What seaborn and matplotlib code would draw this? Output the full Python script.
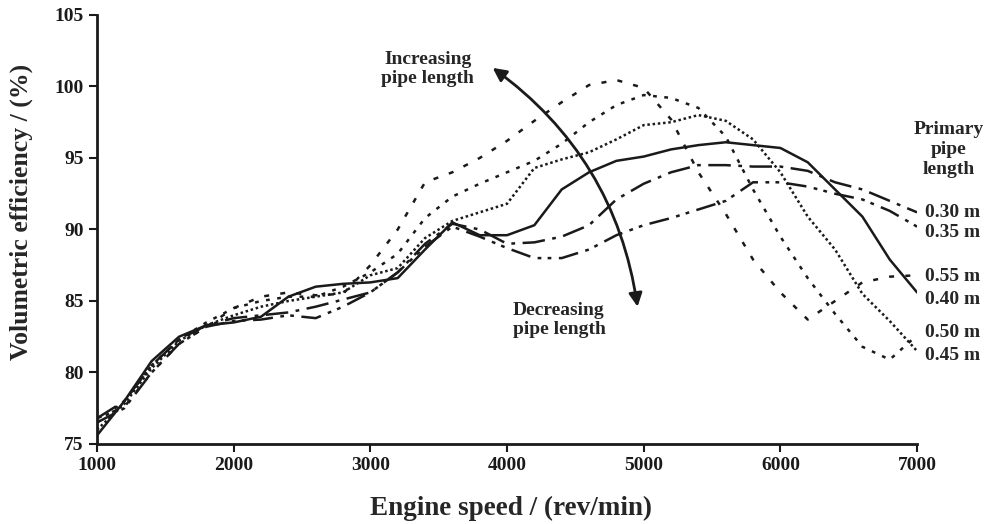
import numpy as np
import pandas as pd
import matplotlib
matplotlib.use("Agg")
import matplotlib.pyplot as plt
import seaborn as sns

# engine speed grid (rev/min)
rpm = np.arange(1000, 7001, 200)

# volumetric efficiency (%), one list per pipe length
ve_030 = [76.8, 78.0, 80.5, 82.3, 83.3, 83.8, 84.0, 84.2, 84.6, 85.1, 85.6,
          87.0, 89.0, 90.4, 90.0, 89.0, 89.1, 89.5, 90.3, 92.1, 93.2,
          94.0, 94.5, 94.5, 94.4, 94.4, 94.1, 93.3, 92.8, 92.0, 91.2]
ve_035 = [76.5, 77.5, 80.0, 82.0, 83.2, 83.6, 83.7, 84.0, 83.8, 84.6, 85.6,
          87.0, 88.8, 90.2, 89.5, 88.7, 88.0, 88.0, 88.6, 89.6, 90.3,
          90.8, 91.4, 92.0, 93.3, 93.3, 93.0, 92.5, 92.1, 91.3, 90.2]
ve_040 = [75.6, 78.0, 80.8, 82.5, 83.3, 83.5, 83.9, 85.3, 86.0, 86.2, 86.3,
          86.6, 88.6, 90.5, 89.6, 89.6, 90.3, 92.8, 94.0, 94.8, 95.1,
          95.6, 95.9, 96.1, 95.9, 95.7, 94.7, 92.8, 90.9, 87.9, 85.6]
ve_045 = [76.0, 77.8, 80.3, 82.2, 83.3, 84.0, 84.6, 85.0, 85.3, 85.6, 86.8,
          87.3, 89.4, 90.6, 91.2, 91.8, 94.3, 94.9, 95.4, 96.3, 97.3,
          97.5, 98.0, 97.6, 96.3, 94.0, 90.9, 88.6, 85.5, 83.6, 81.5]
ve_050 = [76.5, 78.0, 80.5, 82.3, 83.5, 84.5, 85.0, 85.3, 85.3, 86.0, 87.0,
          88.3, 90.8, 92.3, 93.2, 94.0, 94.8, 96.0, 97.5, 98.7, 99.4,
          99.2, 98.5, 96.5, 92.8, 89.5, 86.6, 84.1, 81.8, 80.9, 82.6]
ve_055 = [76.8, 77.6, 80.0, 82.0, 83.2, 84.5, 85.3, 85.6, 85.4, 85.5, 87.5,
          90.0, 93.3, 94.0, 95.0, 96.2, 97.6, 98.9, 100.1, 100.45, 99.9,
          97.7, 94.0, 91.1, 87.9, 85.6, 83.7, 85.0, 86.3, 86.7, 86.8]

labels = ["0.30 m", "0.35 m", "0.40 m", "0.45 m", "0.50 m", "0.55 m"]
series = [ve_030, ve_035, ve_040, ve_045, ve_050, ve_055]
styles = [(0, (9, 3, 1.5, 3)),
          (0, (8, 3, 1.5, 2.5, 1.5, 3)),
          "-",
          (0, (1, 1.1)),
          (0, (1.5, 3)),
          (0, (2, 4.5))]
# label heights at the right edge
label_y = [91.2, 89.8, 85.1, 81.2, 82.8, 86.7]

sns.set_style("ticks")
plt.rcParams["font.family"] = ["Liberation Serif", "DejaVu Serif"]
plt.rcParams["font.weight"] = "bold"

fig = plt.figure(figsize=(9.88, 5.24), dpi=100)
ax = fig.add_axes([0.0982, 0.1527, 0.830, 0.8187])

for lab, vals, ls in zip(labels, series, styles):
    df = pd.DataFrame({"rpm": rpm, "ve": vals})
    sns.lineplot(data=df, x="rpm", y="ve", ax=ax, color="#1a1a1a",
                 linestyle=ls, linewidth=1.8, dashes=False, legend=False)

ax.set_xlim(1000, 7000)
ax.set_ylim(75, 105)
ax.set_xticks(range(1000, 7001, 1000))
ax.set_yticks(range(75, 106, 5))
ax.tick_params(labelsize=14, width=1.5, length=6, colors="#1a1a1a")
for t in ax.get_xticklabels() + ax.get_yticklabels():
    t.set_fontweight("bold")
sns.despine(ax=ax)
for s in ["left", "bottom"]:
    ax.spines[s].set_linewidth(2)
    ax.spines[s].set_color("#1a1a1a")

ax.set_xlabel("Engine speed / (rev/min)", fontsize=19.5, fontweight="bold")
ax.set_ylabel("Volumetric efficiency / (%)", fontsize=18.5, fontweight="bold")
ax.xaxis.set_label_coords(0.505, -0.122)
ax.yaxis.set_label_coords(-0.078, 0.54)

# labels at line ends
for lab, yy in zip(labels, label_y):
    ax.text(7060, yy, lab, fontsize=14, fontweight="bold", va="center",
            ha="left", clip_on=False)
ax.text(7230, 95.6, "Primary\npipe\nlength", fontsize=14, fontweight="bold",
        ha="center", va="center", linespacing=1.2, clip_on=False)

ax.text(3420, 101.2, "Increasing\npipe length", fontsize=14, fontweight="bold",
        ha="center", va="center", linespacing=1.15)
ax.text(4380, 83.7, "Decreasing\npipe length", fontsize=14, fontweight="bold",
        ha="center", va="center", linespacing=1.15)

ax.annotate("", xy=(4955, 84.6), xytext=(3895, 101.3),
            arrowprops=dict(arrowstyle="<|-|>", color="#1a1a1a", lw=2,
                            mutation_scale=20,
                            connectionstyle="arc3,rad=-0.21",
                            shrinkA=0, shrinkB=0))

fig.savefig("out.png", dpi=100)
